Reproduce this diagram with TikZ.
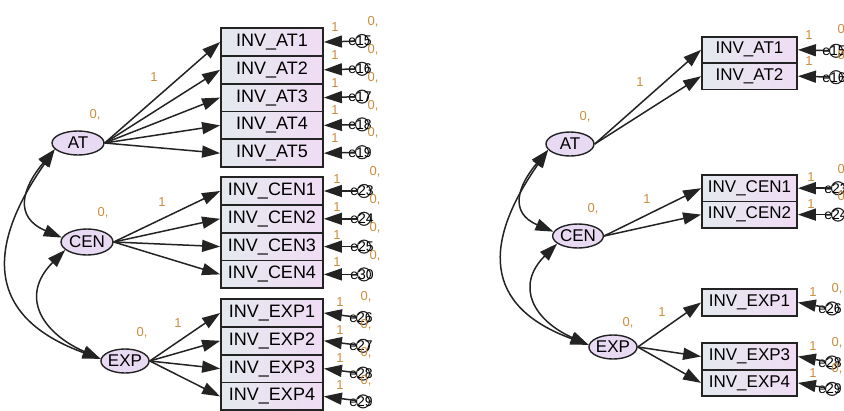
\documentclass[tikz,border=0pt]{standalone}
\usepackage{fontspec}
\setmainfont{Liberation Sans}
\usetikzlibrary{shapes.geometric,arrows.meta}
\definecolor{boxleft}{RGB}{228,233,238}
\definecolor{boxright}{RGB}{240,220,244}
\definecolor{latfill}{RGB}{232,218,242}
\definecolor{estcol}{RGB}{205,140,60}
\definecolor{linecol}{RGB}{35,35,35}
\begin{document}
\begin{tikzpicture}
  \tikzset{
    obsbox/.style={
      rectangle,
      draw=linecol,
      line width=1.8pt,
      left color=boxleft,
      right color=boxright,
      minimum width=102pt,
      minimum height=27.8pt,
      inner sep=0pt,
      font=\fontsize{18}{18}\selectfont
    },
    obssmall/.style={obsbox, minimum width=95pt, minimum height=26.4pt,
      font=\fontsize{17}{17}\selectfont},
    latent/.style={
      ellipse,
      draw=linecol,
      line width=1.4pt,
      fill=latfill,
      inner sep=0pt,
      minimum width=52pt,
      minimum height=24pt,
      font=\fontsize{17}{17}\selectfont
    },
    errc/.style={circle, draw=linecol, line width=1.1pt, minimum size=13pt, inner sep=0pt},
    errtxt/.style={font=\fontsize{14}{14}\selectfont, inner sep=0pt},
    est/.style={text=estcol, font=\fontsize{13}{13}\selectfont, inner sep=0pt},
    load/.style={-{Triangle[length=18pt,width=12pt]}, line width=1.5pt, draw=linecol},
    cov/.style={{Triangle[length=18pt,width=12pt]}-{Triangle[length=18pt,width=12pt]},
      line width=1.5pt, draw=linecol}
  }
  \useasboundingbox (0pt,0pt) rectangle (844pt,-410pt);

  % left model
  \node[latent] (AT) at (78pt, -143pt) {AT};
  \node[latent, minimum height=26pt] (CEN) at (87pt, -242pt) {CEN};
  \node[latent, minimum width=48pt] (EXP) at (125pt, -361pt) {EXP};

  \node[obsbox] (AT1) at (272pt, -42pt) {INV\_AT1};
  \node[obsbox] (AT2) at (272pt, -69.8pt) {INV\_AT2};
  \node[obsbox] (AT3) at (272pt, -97.6pt) {INV\_AT3};
  \node[obsbox] (AT4) at (272pt, -125.4pt) {INV\_AT4};
  \node[obsbox] (AT5) at (272pt, -153.2pt) {INV\_AT5};
  \node[obsbox] (CEN1) at (272pt, -191pt) {INV\_CEN1};
  \node[obsbox] (CEN2) at (272pt, -218.8pt) {INV\_CEN2};
  \node[obsbox] (CEN3) at (272pt, -246.6pt) {INV\_CEN3};
  \node[obsbox] (CEN4) at (272pt, -274.4pt) {INV\_CEN4};
  \node[obsbox] (EXP1) at (272pt, -313pt) {INV\_EXP1};
  \node[obsbox] (EXP2) at (272pt, -340.8pt) {INV\_EXP2};
  \node[obsbox] (EXP3) at (272pt, -368.6pt) {INV\_EXP3};
  \node[obsbox] (EXP4) at (272pt, -396.4pt) {INV\_EXP4};

  \node[est] (vAT) at (95pt, -115pt) {0,};
  \node[est] (vCEN) at (103pt, -213pt) {0,};
  \node[est] (vEXP) at (142pt, -333pt) {0,};
  \node[est] (wAT) at (154pt, -77pt) {1};
  \node[est] (wCEN) at (162pt, -202pt) {1};
  \node[est] (wEXP) at (178pt, -323pt) {1};

  % error terms
  \node[errc, label={[errtxt, xshift=-2pt]center:e15}] (e15) at (362pt, -41pt) {};
  \node[errc, label={[errtxt, xshift=-2pt]center:e16}] (e16) at (362pt, -68.8pt) {};
  \node[errc, label={[errtxt, xshift=-2pt]center:e17}] (e17) at (362pt, -96.6pt) {};
  \node[errc, label={[errtxt, xshift=-2pt]center:e18}] (e18) at (362pt, -124.4pt) {};
  \node[errc, label={[errtxt, xshift=-2pt]center:e19}] (e19) at (362pt, -152.2pt) {};
  \node[errc, label={[errtxt, xshift=-2pt]center:e23}] (e23) at (364pt, -191pt) {};
  \node[errc, label={[errtxt, xshift=-2pt]center:e24}] (e24) at (364pt, -218.8pt) {};
  \node[errc, label={[errtxt, xshift=-2pt]center:e25}] (e25) at (364pt, -246.6pt) {};
  \node[errc, label={[errtxt, xshift=-2pt]center:e30}] (e30) at (364pt, -274.4pt) {};
  \node[errc, label={[errtxt, xshift=-2pt]center:e26}] (e26) at (363pt, -318pt) {};
  \node[errc, label={[errtxt, xshift=-2pt]center:e27}] (e27) at (363pt, -345.8pt) {};
  \node[errc, label={[errtxt, xshift=-2pt]center:e28}] (e28) at (363pt, -373.6pt) {};
  \node[errc, label={[errtxt, xshift=-2pt]center:e29}] (e29) at (363pt, -401.4pt) {};

  \node[est] (w15) at (335pt, -27pt) {1};
  \node[est] (v15) at (373pt, -22pt) {0,};
  \node[est] (w16) at (335pt, -54.8pt) {1};
  \node[est] (v16) at (373pt, -49.8pt) {0,};
  \node[est] (w17) at (335pt, -82.6pt) {1};
  \node[est] (v17) at (373pt, -77.6pt) {0,};
  \node[est] (w18) at (335pt, -110.4pt) {1};
  \node[est] (v18) at (373pt, -105.4pt) {0,};
  \node[est] (w19) at (335pt, -138.2pt) {1};
  \node[est] (v19) at (373pt, -133.2pt) {0,};
  \node[est] (w23) at (337pt, -179pt) {1};
  \node[est] (v23) at (375pt, -172pt) {0,};
  \node[est] (w24) at (337pt, -206.8pt) {1};
  \node[est] (v24) at (375pt, -199.8pt) {0,};
  \node[est] (w25) at (337pt, -234.6pt) {1};
  \node[est] (v25) at (375pt, -227.6pt) {0,};
  \node[est] (w30) at (337pt, -262.4pt) {1};
  \node[est] (v30) at (375pt, -255.4pt) {0,};
  \node[est] (w26) at (340pt, -302pt) {1};
  \node[est] (v26) at (366pt, -297pt) {0,};
  \node[est] (w27) at (340pt, -329.8pt) {1};
  \node[est] (v27) at (366pt, -324.8pt) {0,};
  \node[est] (w28) at (340pt, -357.6pt) {1};
  \node[est] (v28) at (366pt, -352.6pt) {0,};
  \node[est] (w29) at (340pt, -385.4pt) {1};
  \node[est] (v29) at (366pt, -380.4pt) {0,};

  \draw[load] (AT.east) -- (AT1.west);
  \draw[load] (AT.east) -- (AT2.west);
  \draw[load] (AT.east) -- (AT3.west);
  \draw[load] (AT.east) -- (AT4.west);
  \draw[load] (AT.east) -- (AT5.west);
  \draw[load] (CEN.east) -- (CEN1.west);
  \draw[load] (CEN.east) -- (CEN2.west);
  \draw[load] (CEN.east) -- (CEN3.west);
  \draw[load] (CEN.east) -- (CEN4.west);
  \draw[load] (EXP.east) -- (EXP1.west);
  \draw[load] (EXP.east) -- (EXP2.west);
  \draw[load] (EXP.east) -- (EXP3.west);
  \draw[load] (EXP.east) -- (EXP4.west);

  \draw[load] (e15) -- (AT1.east);
  \draw[load] (e16) -- (AT2.east);
  \draw[load] (e17) -- (AT3.east);
  \draw[load] (e18) -- (AT4.east);
  \draw[load] (e19) -- (AT5.east);
  \draw[load] (e23) -- (CEN1.east);
  \draw[load] (e24) -- (CEN2.east);
  \draw[load] (e25) -- (CEN3.east);
  \draw[load] (e30) -- (CEN4.east);
  \draw[load] (e26) -- (EXP1.east);
  \draw[load] (e27) -- (EXP2.east);
  \draw[load] (e28) -- (EXP3.east);
  \draw[load] (e29) -- (EXP4.east);

  \draw[cov] (AT.195) to[out=230, in=157, looseness=1.5] (CEN.170);
  \draw[cov] (CEN.200) to[out=225, in=156, looseness=1.45] (EXP.175);
  \draw[cov] (AT.195) to[out=235, in=160, looseness=1.45] (EXP.175);

  % right model
  \node[latent, minimum width=48pt] (rAT) at (570pt, -144pt) {AT};
  \node[latent, minimum width=47pt] (rCEN) at (578pt, -236pt) {CEN};
  \node[latent, minimum width=45pt] (rEXP) at (613pt, -347pt) {EXP};

  \node[obssmall] (rAT1) at (749.5pt, -49.8pt) {INV\_AT1};
  \node[obssmall] (rAT2) at (749.5pt, -76.2pt) {INV\_AT2};
  \node[obssmall] (rCEN1) at (749.5pt, -188.2pt) {INV\_CEN1};
  \node[obssmall] (rCEN2) at (749.5pt, -214.6pt) {INV\_CEN2};
  \node[obssmall] (rEXP1) at (749.5pt, -302.5pt) {INV\_EXP1};
  \node[obssmall] (rEXP3) at (749.5pt, -356.5pt) {INV\_EXP3};
  \node[obssmall] (rEXP4) at (749.5pt, -382.9pt) {INV\_EXP4};

  \node[est] (rvAT) at (585pt, -117pt) {0,};
  \node[est] (rvCEN) at (593pt, -209pt) {0,};
  \node[est] (rvEXP) at (628pt, -323pt) {0,};
  \node[est] (rwAT) at (640pt, -82pt) {1};
  \node[est] (rwCEN) at (647pt, -199pt) {1};
  \node[est] (rwEXP) at (662pt, -312pt) {1};

  \node[errc, label={[errtxt, xshift=-2pt]center:e15}] (re15) at (836pt, -50.8pt) {};
  \node[errc, label={[errtxt, xshift=-2pt]center:e16}] (re16) at (836pt, -77.2pt) {};
  \node[errc, label={[errtxt, xshift=-2pt]center:e23}] (re23) at (838pt, -188.2pt) {};
  \node[errc, label={[errtxt, xshift=-2pt]center:e24}] (re24) at (838pt, -214.6pt) {};
  \node[errc, label={[errtxt, xshift=-2pt]center:e26}] (re26) at (832pt, -308.5pt) {};
  \node[errc, label={[errtxt, xshift=-2pt]center:e28}] (re28) at (832pt, -362.5pt) {};
  \node[errc, label={[errtxt, xshift=-2pt]center:e29}] (re29) at (832pt, -388.9pt) {};

  \node[est] (rw15) at (809pt, -34.8pt) {1};
  \node[est] (rv15) at (843pt, -29.8pt) {0,};
  \node[est] (rw16) at (809pt, -61.2pt) {1};
  \node[est] (rv16) at (843pt, -56.2pt) {0,};
  \node[est] (rw23) at (811pt, -177.2pt) {1};
  \node[est] (rv23) at (843pt, -170.2pt) {0,};
  \node[est] (rw24) at (811pt, -203.6pt) {1};
  \node[est] (rv24) at (843pt, -196.6pt) {0,};
  \node[est] (rw26) at (813pt, -292.5pt) {1};
  \node[est] (rv26) at (837pt, -288.5pt) {0,};
  \node[est] (rw28) at (813pt, -346.5pt) {1};
  \node[est] (rv28) at (837pt, -342.5pt) {0,};
  \node[est] (rw29) at (813pt, -372.9pt) {1};
  \node[est] (rv29) at (837pt, -368.9pt) {0,};

  \draw[load] (rAT.east) -- (rAT1.west);
  \draw[load] (rAT.east) -- (rAT2.west);
  \draw[load] (rCEN.east) -- (rCEN1.west);
  \draw[load] (rCEN.east) -- (rCEN2.west);
  \draw[load] (rEXP.east) -- (rEXP1.west);
  \draw[load] (rEXP.east) -- (rEXP3.west);
  \draw[load] (rEXP.east) -- (rEXP4.west);

  \draw[load] (re15) -- (rAT1.east);
  \draw[load] (re16) -- (rAT2.east);
  \draw[load] (re23) -- (rCEN1.east);
  \draw[load] (re24) -- (rCEN2.east);
  \draw[load] (re26) -- (rEXP1.east);
  \draw[load] (re28) -- (rEXP3.east);
  \draw[load] (re29) -- (rEXP4.east);

  \draw[cov] (rAT.195) to[out=230, in=157, looseness=1.5] (rCEN.170);
  \draw[cov] (rCEN.200) to[out=225, in=156, looseness=1.45] (rEXP.175);
  \draw[cov] (rAT.195) to[out=235, in=160, looseness=1.45] (rEXP.175);
\end{tikzpicture}
\end{document}
